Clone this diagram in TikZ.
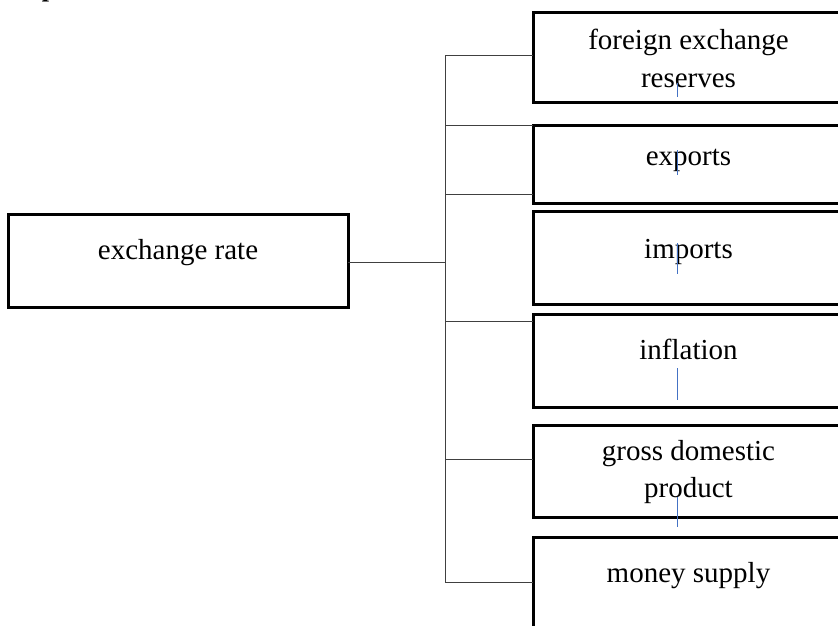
\documentclass[tikz,border=0pt]{standalone}
\usepackage{fontspec}
\setmainfont{Liberation Serif}
\definecolor{cursorblue}{RGB}{68,114,196}
\definecolor{linkgray}{RGB}{64,64,64}
\begin{document}
\begin{tikzpicture}[x=1pt,y=-1pt,
  box/.style={draw=black,line width=3pt,rectangle,inner sep=0pt,outer sep=0pt},
  lbl/.style={anchor=base,inner sep=0pt,font=\fontsize{29}{38}\selectfont,align=center},
  link/.style={draw=linkgray,line width=1pt},
  cursor/.style={draw=cursorblue,line width=1pt}]
\useasboundingbox (0,0) rectangle (838,625);
\clip (0,0) rectangle (838,625);
% cut-off heading glyph
\node[anchor=base,inner sep=0pt,font=\fontsize{26}{30}\selectfont\bfseries] (hd) at (49,-4) {p};
% boxes
\node[box,minimum width=340pt,minimum height=93pt] (er) at (178,260.5) {};
\node[box,minimum width=311pt,minimum height=90pt] (b1) at (688.5,57) {};
\node[box,minimum width=311pt,minimum height=78pt] (b2) at (688.5,164) {};
\node[box,minimum width=311pt,minimum height=93pt] (b3) at (688.5,257.5) {};
\node[box,minimum width=311pt,minimum height=93pt] (b4) at (688.5,360.5) {};
\node[box,minimum width=311pt,minimum height=92pt] (b5) at (688.5,471) {};
\node[box,minimum width=311pt,minimum height=93pt] (b6) at (688.5,583.5) {};
% texts
\node[lbl] (ter) at (178,259) {exchange rate};
\node[lbl] (t1a) at (688.5,49) {foreign exchange};
\node[lbl] (t1b) at (688.5,87) {reserves};
\node[lbl] (t2) at (688.5,165) {exports};
\node[lbl] (t3) at (688.5,258) {imports};
\node[lbl] (t4) at (688.5,359) {inflation};
\node[lbl] (t5a) at (688.5,460) {gross domestic};
\node[lbl] (t5b) at (688.5,497) {product};
\node[lbl] (t6) at (688.5,582) {money supply};
% trunk and branches
\coordinate (top) at (445,55);
\coordinate (bot) at (445,582);
\coordinate (j1) at (445,55);
\coordinate (j2) at (445,125);
\coordinate (j3) at (445,194);
\coordinate (j4) at (445,321);
\coordinate (j5) at (445,459);
\coordinate (j6) at (445,582);
\coordinate (jer) at (445,262);
\draw[link] (top) -- (bot);
\draw[link] ([yshift=-1.5pt]er.east) -- (jer);
\draw[link] (j1) -- (j1 -| b1.west);
\draw[link] (j2) -- (j2 -| b2.west);
\draw[link] (j3) -- (j3 -| b2.west);
\draw[link] (j4) -- (j4 -| b4.west);
\draw[link] (j5) -- (j5 -| b5.west);
\draw[link] (j6) -- (j6 -| b6.west);
% text cursors
\draw[cursor] (677,83) -- (677,97);
\draw[cursor] (677,150) -- (677,175);
\draw[cursor] (677,243) -- (677,274);
\draw[cursor] (677,368) -- (677,400);
\draw[cursor] (677,497) -- (677,527);
\end{tikzpicture}
\end{document}
